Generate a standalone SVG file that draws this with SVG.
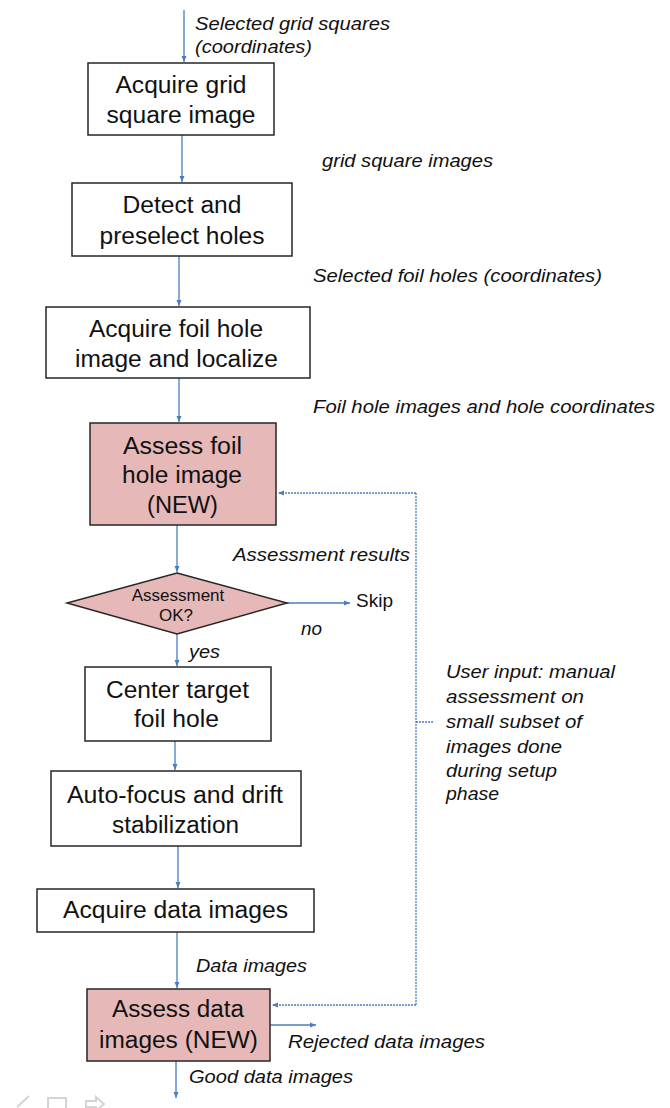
<svg xmlns="http://www.w3.org/2000/svg" width="670" height="1108" viewBox="0 0 670 1108">
<style>
.box{fill:#ffffff;stroke:#262626;stroke-width:1.5}
.pink{fill:#e6b9b8;stroke:#262626;stroke-width:1.5}
.t{font-family:"Liberation Sans",Arial,sans-serif;font-size:23px;fill:#111;text-anchor:middle}
.d{font-family:"Liberation Sans",Arial,sans-serif;font-size:17px;fill:#111;text-anchor:middle}
.l{font-family:"Liberation Sans",Arial,sans-serif;font-size:18px;font-style:italic;fill:#111}
.s{font-family:"Liberation Sans",Arial,sans-serif;font-size:19px;fill:#111}
.c{fill:none;stroke:#4a7ebb;stroke-width:1.3}
.dash{fill:none;stroke:#4a7ebb;stroke-width:1.3;stroke-dasharray:2,1}
.ico{fill:none;stroke:#d4d4d4;stroke-width:2}
</style>
<defs>
<marker id="ah" markerWidth="8" markerHeight="8" refX="6" refY="3" orient="auto" markerUnits="userSpaceOnUse">
<path d="M0,0.5 L6,3 L0,5.5 Z" fill="#4a7ebb"/>
</marker>
</defs>
<rect width="670" height="1108" fill="#ffffff"/>
<g id="connectors">
<path class="c" d="M184,10 V62" marker-end="url(#ah)"/>
<path class="c" d="M182,135 V182" marker-end="url(#ah)"/>
<path class="c" d="M179,256 V306" marker-end="url(#ah)"/>
<path class="c" d="M179,378 V422" marker-end="url(#ah)"/>
<path class="c" d="M177,525 V572" marker-end="url(#ah)"/>
<path class="c" d="M287,603 H350" marker-end="url(#ah)"/>
<path class="c" d="M177,634 V666" marker-end="url(#ah)"/>
<path class="c" d="M175,741 V770" marker-end="url(#ah)"/>
<path class="c" d="M178,846 V888" marker-end="url(#ah)"/>
<path class="c" d="M177,932 V988" marker-end="url(#ah)"/>
<path class="c" d="M176,1061 V1098" marker-end="url(#ah)"/>
<path class="c" d="M270,1025 H316" marker-end="url(#ah)"/>
<path class="dash" d="M416,493 V1005"/>
<path class="dash" d="M433,722 H416"/>
<path class="dash" d="M416,493 H278" marker-end="url(#ah)"/>
<path class="dash" d="M416,1005 H272" marker-end="url(#ah)"/>
</g>
<g id="labels">
<text class="l" x="195" y="30" textLength="195" lengthAdjust="spacingAndGlyphs">Selected grid squares</text>
<text class="l" x="195" y="53" textLength="117" lengthAdjust="spacingAndGlyphs">(coordinates)</text>
<text class="l" x="322" y="167" textLength="171" lengthAdjust="spacingAndGlyphs">grid square images</text>
<text class="l" x="313" y="282" textLength="289" lengthAdjust="spacingAndGlyphs">Selected foil holes (coordinates)</text>
<text class="l" x="313" y="413" textLength="342" lengthAdjust="spacingAndGlyphs">Foil hole images and hole coordinates</text>
<text class="l" x="233" y="561" textLength="177" lengthAdjust="spacingAndGlyphs">Assessment results</text>
<text class="s" x="356" y="607">Skip</text>
<text class="l" x="301" y="635" textLength="21" lengthAdjust="spacingAndGlyphs">no</text>
<text class="l" x="189" y="658" textLength="31" lengthAdjust="spacingAndGlyphs">yes</text>
<text class="l" x="446" y="678" textLength="169" lengthAdjust="spacingAndGlyphs">User input: manual</text>
<text class="l" x="446" y="703" textLength="138" lengthAdjust="spacingAndGlyphs">assessment on</text>
<text class="l" x="446" y="728" textLength="136" lengthAdjust="spacingAndGlyphs">small subset of</text>
<text class="l" x="446" y="753" textLength="116" lengthAdjust="spacingAndGlyphs">images done</text>
<text class="l" x="446" y="777" textLength="111" lengthAdjust="spacingAndGlyphs">during setup</text>
<text class="l" x="446" y="800" textLength="53" lengthAdjust="spacingAndGlyphs">phase</text>
<text class="l" x="196" y="972" textLength="111" lengthAdjust="spacingAndGlyphs">Data images</text>
<text class="l" x="288" y="1048" textLength="197" lengthAdjust="spacingAndGlyphs">Rejected data images</text>
<text class="l" x="189" y="1083" textLength="164" lengthAdjust="spacingAndGlyphs">Good data images</text>
</g>
<g id="n1">
<rect class="box" x="88" y="63" width="186" height="72"/>
<text class="t" x="181" y="93" textLength="131" lengthAdjust="spacingAndGlyphs">Acquire grid</text>
<text class="t" x="181" y="123" textLength="149" lengthAdjust="spacingAndGlyphs">square image</text>
</g>
<g id="n2">
<rect class="box" x="72" y="183" width="220" height="73"/>
<text class="t" x="182" y="213" textLength="119" lengthAdjust="spacingAndGlyphs">Detect and</text>
<text class="t" x="182" y="244" textLength="165" lengthAdjust="spacingAndGlyphs">preselect holes</text>
</g>
<g id="n3">
<rect class="box" x="46" y="307" width="264" height="71"/>
<text class="t" x="176" y="337" textLength="174" lengthAdjust="spacingAndGlyphs">Acquire foil hole</text>
<text class="t" x="176.5" y="367" textLength="203" lengthAdjust="spacingAndGlyphs">image and localize</text>
</g>
<g id="n4">
<rect class="pink" x="90" y="423" width="186" height="102"/>
<text class="t" x="182.5" y="454" textLength="119" lengthAdjust="spacingAndGlyphs">Assess foil</text>
<text class="t" x="182" y="483" textLength="120" lengthAdjust="spacingAndGlyphs">hole image</text>
<text class="t" x="182.5" y="513" textLength="71" lengthAdjust="spacingAndGlyphs">(NEW)</text>
</g>
<g id="n5">
<polygon class="pink" points="177,573 287,603 177,634 67,603"/>
<text class="d" x="178" y="601">Assessment</text>
<text class="d" x="176" y="621">OK?</text>
</g>
<g id="n6">
<rect class="box" x="85" y="667" width="186" height="74"/>
<text class="t" x="177.5" y="698" textLength="143" lengthAdjust="spacingAndGlyphs">Center target</text>
<text class="t" x="176.5" y="727" textLength="85" lengthAdjust="spacingAndGlyphs">foil hole</text>
</g>
<g id="n7">
<rect class="box" x="51" y="771" width="250" height="75"/>
<text class="t" x="175" y="803" textLength="216" lengthAdjust="spacingAndGlyphs">Auto-focus and drift</text>
<text class="t" x="175.5" y="833" textLength="127" lengthAdjust="spacingAndGlyphs">stabilization</text>
</g>
<g id="n8">
<rect class="box" x="37" y="889" width="277" height="43"/>
<text class="t" x="175.5" y="918" textLength="225" lengthAdjust="spacingAndGlyphs">Acquire data images</text>
</g>
<g id="n9">
<rect class="pink" x="87" y="989" width="183" height="72"/>
<text class="t" x="178" y="1017" textLength="132" lengthAdjust="spacingAndGlyphs">Assess data</text>
<text class="t" x="178.5" y="1048" textLength="159" lengthAdjust="spacingAndGlyphs">images (NEW)</text>
</g>
<g id="toolbar">
<path class="ico" d="M17,1107 L29,1096"/>
<rect class="ico" x="48" y="1098" width="18" height="12" fill="#f2f2f2"/>
<path class="ico" d="M86,1101 H96 V1097 L104,1104 L96,1111 V1107 H86 Z" fill="#f2f2f2"/>
</g>
</svg>
